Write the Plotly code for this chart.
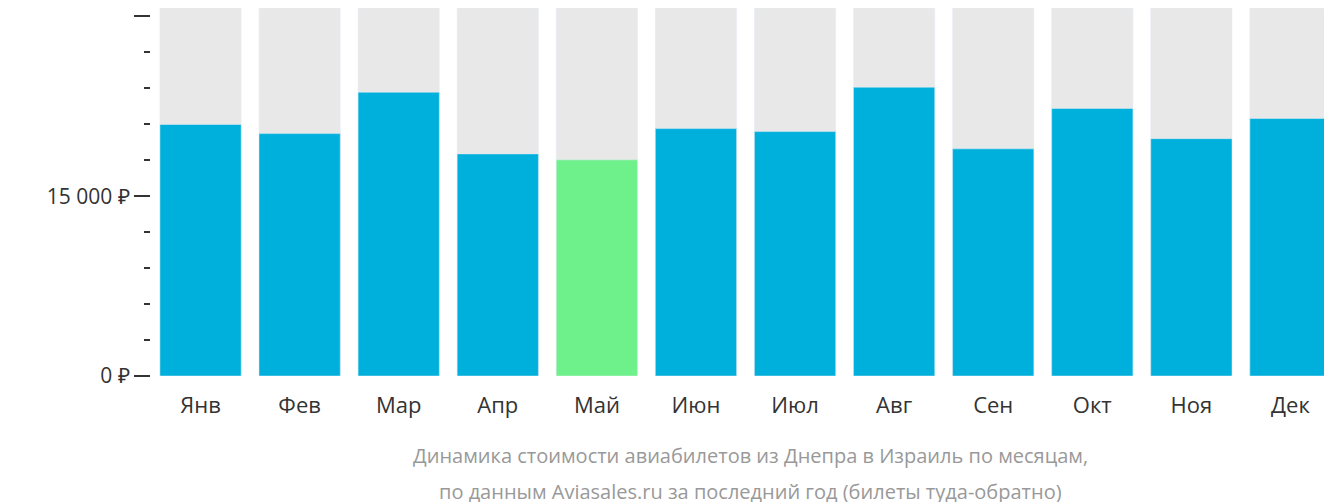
import plotly.graph_objects as go

months = ["Янв","Фев","Мар","Апр","Май","Июн","Июл","Авг","Сен","Окт","Ноя","Дек"]
prices = [20980, 20220, 23670, 18530, 18030, 20640, 20390, 24090, 18950, 22320, 19800, 21480]
ymax = 30700
colors = ["#6ef08a" if m == "Май" else "#00b0dc" for m in months]

fig = go.Figure()
fig.add_bar(x=months, y=[ymax]*len(months), marker_color="#e8e8e8", hoverinfo="skip")
fig.add_bar(x=months, y=prices, marker_color=colors)
fig.update_layout(
    width=1332, height=502, barmode="overlay", bargap=0.18, showlegend=False,
    plot_bgcolor="white", paper_bgcolor="white",
    margin=dict(l=143, r=0, t=0, b=134, autoexpand=False),
    font=dict(family="Open Sans", color="#333"),
    xaxis=dict(tickfont=dict(size=22, color="#333"), ticks="outside", ticklen=10,
               tickcolor="rgba(0,0,0,0)", showline=False, automargin=False),
    yaxis=dict(range=[0, ymax], tickvals=[0, 15000, 30000],
               ticktext=["0 ₽", "15 000 ₽", "30 000 ₽"], automargin=False,
               tickfont=dict(size=21, color="#333"), showgrid=False, zeroline=False,
               ticks="outside", ticklen=16, tickcolor="#333", tickwidth=2,
               minor=dict(tickvals=[3000,6000,9000,12000,18000,21000,24000,27000],
                          ticks="outside", ticklen=6, tickcolor="#333", tickwidth=2)),
)
xc = (742-143)/1189
fig.add_annotation(text="Динамика стоимости авиабилетов из Днепра в Израиль по месяцам,",
                   xref="paper", yref="paper", x=xc, xanchor="center", y=-(444-365)/368,
                   yanchor="middle", showarrow=False, font=dict(size=20, color="#999", family="Open Sans"))
fig.add_annotation(text="по данным Aviasales.ru за последний год (билеты туда-обратно)",
                   xref="paper", yref="paper", x=xc, xanchor="center", y=-(480-365)/368,
                   yanchor="middle", showarrow=False, font=dict(size=20, color="#999", family="Open Sans"))
fig.write_html("out.html")
